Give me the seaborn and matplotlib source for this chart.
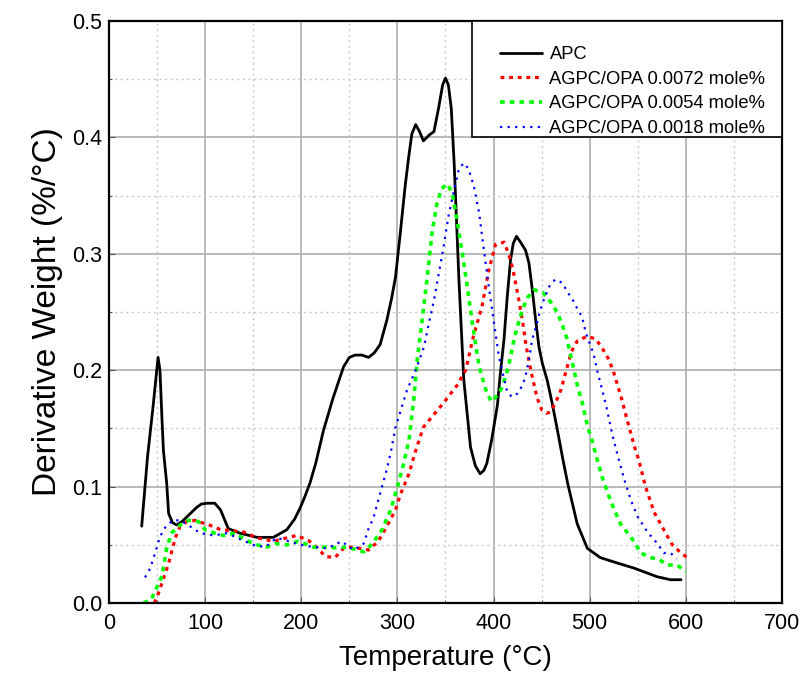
import numpy as np
import pandas as pd
import matplotlib
matplotlib.use("Agg")
import matplotlib.pyplot as plt
from matplotlib.patches import Rectangle
from matplotlib.ticker import MultipleLocator, FormatStrFormatter
import seaborn as sns

# ---------------- data ----------------
apc_x = [34, 40, 46, 51, 53, 55, 56.6, 60, 62, 66, 70.5, 76, 81, 86, 91, 96, 102, 110, 116, 120, 124,
         130, 136, 154, 171, 185, 193, 199, 204, 209, 215, 223, 233, 244, 250, 256, 263, 270, 276, 282,
         289, 294, 298, 303, 308, 312, 315, 319, 323, 327, 333, 338, 343, 347, 350, 353, 356, 359, 364,
         369, 376, 381, 386, 390, 393, 398, 404, 407, 410.8, 414.2, 417.7, 420.5, 423.9, 428, 433.3,
         436.8, 440.3, 443.8, 447.2, 450.7, 455.9, 461.1, 466.3, 471.5, 477, 487, 497.5, 511, 530, 546,
         570, 584, 595]
apc_y = [0.066, 0.125, 0.170, 0.211, 0.200, 0.160, 0.131, 0.103, 0.077, 0.069, 0.067, 0.070, 0.074,
         0.078, 0.082, 0.085, 0.0857, 0.0857, 0.080, 0.072, 0.064, 0.062, 0.060, 0.0564, 0.0564, 0.063,
         0.072, 0.082, 0.092, 0.103, 0.120, 0.148, 0.176, 0.203, 0.211, 0.213, 0.213, 0.211, 0.215,
         0.222, 0.243, 0.262, 0.280, 0.318, 0.358, 0.385, 0.403, 0.411, 0.405, 0.397, 0.402, 0.405,
         0.426, 0.445, 0.451, 0.445, 0.425, 0.378, 0.277, 0.192, 0.134, 0.118, 0.111, 0.114, 0.120,
         0.140, 0.170, 0.197, 0.226, 0.263, 0.295, 0.309, 0.315, 0.310, 0.303, 0.292, 0.269, 0.243,
         0.220, 0.206, 0.191, 0.171, 0.149, 0.126, 0.103, 0.068, 0.047, 0.039, 0.034, 0.030, 0.0226,
         0.020, 0.020]

r72_x = [47, 50, 55, 62, 69, 74, 81, 90, 100, 108, 116, 128, 140, 154, 171, 185, 195, 207, 216, 225,
         235, 244, 252, 260, 270, 280, 287, 293, 298, 303, 312, 319, 327, 339, 348, 362, 371, 379, 388,
         395, 402, 411, 416, 420, 425, 430, 434, 439, 445, 450, 455, 459, 465, 470, 477, 481, 487, 497,
         506, 513, 520, 525, 529, 533, 540, 547, 551, 558, 567, 579, 586, 595, 603]
r72_y = [0.0, 0.005, 0.017, 0.034, 0.056, 0.066, 0.070, 0.071, 0.068, 0.066, 0.063, 0.062, 0.061,
         0.056, 0.053, 0.056, 0.058, 0.054, 0.048, 0.040, 0.039, 0.047, 0.048, 0.047, 0.0455, 0.053,
         0.063, 0.072, 0.080, 0.093, 0.111, 0.131, 0.151, 0.163, 0.172, 0.187, 0.200, 0.229, 0.255,
         0.286, 0.308, 0.310, 0.299, 0.287, 0.266, 0.243, 0.220, 0.199, 0.177, 0.166, 0.163, 0.164,
         0.173, 0.183, 0.204, 0.216, 0.225, 0.229, 0.227, 0.219, 0.209, 0.198, 0.187, 0.176, 0.154,
         0.133, 0.123, 0.100, 0.078, 0.060, 0.050, 0.043, 0.038]

g54_x = [36, 44, 50, 55, 60, 65, 74, 83, 93, 100, 110, 119, 131, 142, 154, 164, 173, 185, 197, 213,
         225, 235, 248, 258, 265, 274, 284, 293, 300, 306, 312, 317, 321, 326, 331, 336, 341, 346, 352,
         357, 362, 367, 372.6, 378, 385, 392, 397.6, 405.6, 409, 413.5, 417, 422, 426, 430, 435, 442,
         451, 459, 466, 471.5, 476, 479, 482, 485, 488, 492, 495, 498, 502, 505.5, 513, 522, 532, 546,
         553, 563.5, 572, 581, 591, 600]
g54_y = [0.0, 0.003, 0.014, 0.023, 0.047, 0.060, 0.067, 0.071, 0.070, 0.063, 0.060, 0.058, 0.060,
         0.054, 0.050, 0.048, 0.051, 0.050, 0.053, 0.048, 0.048, 0.0475, 0.048, 0.0455, 0.044, 0.051,
         0.063, 0.080, 0.100, 0.118, 0.140, 0.175, 0.212, 0.245, 0.280, 0.318, 0.343, 0.356, 0.360,
         0.352, 0.329, 0.303, 0.272, 0.240, 0.203, 0.183, 0.173, 0.180, 0.186, 0.197, 0.209, 0.229,
         0.241, 0.252, 0.262, 0.269, 0.267, 0.259, 0.250, 0.239, 0.228, 0.217, 0.206, 0.195, 0.184,
         0.173, 0.162, 0.151, 0.141, 0.130, 0.108, 0.087, 0.068, 0.053, 0.043, 0.039, 0.0375, 0.0326,
         0.0326, 0.027]

b18_x = [37.5, 43, 48, 53, 60, 67, 74, 84, 95, 109, 122.6, 140, 150, 162.5, 174.7, 185, 199, 213, 227,
         242, 254.5, 265, 270, 275, 282, 289, 293, 298, 310, 319, 327.6, 332.6, 338, 343, 348, 353, 359,
         364, 369, 374, 379.5, 385, 390, 395, 400, 405.5, 411, 414, 419, 425, 430, 433, 437, 440, 444,
         448, 452, 458, 464, 471.5, 477, 482, 487, 492, 496, 500, 504, 508, 513, 518, 524, 529, 536,
         543, 550, 560, 570.5, 577, 584, 590.6]
b18_y = [0.022, 0.030, 0.043, 0.057, 0.067, 0.071, 0.071, 0.066, 0.060, 0.058, 0.060, 0.0535, 0.050,
         0.048, 0.056, 0.0535, 0.050, 0.048, 0.047, 0.053, 0.0455, 0.051, 0.064, 0.073, 0.094, 0.115,
         0.129, 0.151, 0.183, 0.200, 0.220, 0.240, 0.260, 0.283, 0.306, 0.332, 0.355, 0.373, 0.378,
         0.373, 0.358, 0.335, 0.303, 0.272, 0.243, 0.212, 0.192, 0.182, 0.177, 0.180, 0.187, 0.194,
         0.210, 0.226, 0.237, 0.250, 0.260, 0.272, 0.278, 0.275, 0.267, 0.261, 0.253, 0.246, 0.232,
         0.223, 0.214, 0.199, 0.183, 0.166, 0.143, 0.127, 0.106, 0.088, 0.074, 0.061, 0.051, 0.043,
         0.043, 0.038]

labels = ["APC", "AGPC/OPA 0.0072 mole%", "AGPC/OPA 0.0054 mole%", "AGPC/OPA 0.0018 mole%"]
x_ticks = [0, 100, 200, 300, 400, 500, 600, 700]
y_ticks = [0.0, 0.1, 0.2, 0.3, 0.4, 0.5]

# ---------------- style ----------------
sns.set_style("white")
plt.rcParams['font.family'] = ['Liberation Sans', 'DejaVu Sans']
plt.rcParams['text.color'] = 'black'
plt.rcParams['axes.labelcolor'] = 'black'
plt.rcParams['xtick.color'] = 'black'
plt.rcParams['ytick.color'] = 'black'

fig = plt.figure(figsize=(8.04, 6.77), dpi=100)
ax = fig.add_axes([109/804, 1-603/677, (782-109)/804, (603-21)/677])

series = [
    (apc_x, apc_y, labels[0], "#000000", 2.0, "-"),
    (r72_x, r72_y, labels[1], "#ff0000", 2.3, (0, (1.2, 1.5))),
    (g54_x, g54_y, labels[2], "#00ff00", 2.6, (0, (1.3, 1.4))),
    (b18_x, b18_y, labels[3], "#0000ff", 1.6, (0, (1.0, 2.4))),
]
for xs, ys, lab, col, lw, ls in series:
    df = pd.DataFrame({"T": xs, "D": ys})
    sns.lineplot(data=df, x="T", y="D", ax=ax, color=col, linewidth=lw,
                 linestyle=ls, label=lab, sort=False, estimator=None)

ax.set_xlim(0, 700)
ax.set_ylim(0, 0.5)
ax.set_xticks(x_ticks)
ax.set_yticks(y_ticks)
ax.xaxis.set_minor_locator(MultipleLocator(50))
ax.yaxis.set_minor_locator(MultipleLocator(0.05))
ax.yaxis.set_major_formatter(FormatStrFormatter('%.1f'))
ax.grid(True, which='major', color='#b4b4b4', linewidth=1.3, linestyle='-')
ax.grid(True, which='minor', color='#c8c8c8', linewidth=1.0, linestyle=(0, (1.5, 2.5)))
ax.set_axisbelow(True)
ax.tick_params(which='both', direction='in', length=4, width=0.8, color='#555555',
               labelcolor='black', bottom=True, left=True)
ax.tick_params(which='minor', length=2)
ax.tick_params(axis='x', pad=7)
ax.tick_params(axis='y', pad=5)
for lab in ax.get_xticklabels() + ax.get_yticklabels():
    lab.set_fontsize(15.5)
    lab.set_color('black')
for sp in ax.spines.values():
    sp.set_color('black')
    sp.set_linewidth(1.6)

ax.set_xlabel("Temperature (\u00b0C)", fontsize=20, color='black', labelpad=8)
ax.set_ylabel("Derivative Weight (%/\u00b0C)", fontsize=24, color='black', labelpad=6)

# legend
leg = ax.legend(loc='upper left', bbox_to_anchor=(500/804, 1-46/677), bbox_transform=fig.transFigure,
                frameon=False, fontsize=13.2, handlelength=2.3, handletextpad=0.4,
                labelspacing=0.42, borderpad=0, borderaxespad=0)
for t in leg.get_texts():
    t.set_color('black')
box = Rectangle(((472-109)/673, (603-137)/582), 1-(472-109)/673, (137-21)/582,
                transform=ax.transAxes, facecolor='white', edgecolor='black', linewidth=1.2, zorder=4)
ax.add_patch(box)
leg.set_zorder(5)

fig.savefig("out.png", dpi=100)
